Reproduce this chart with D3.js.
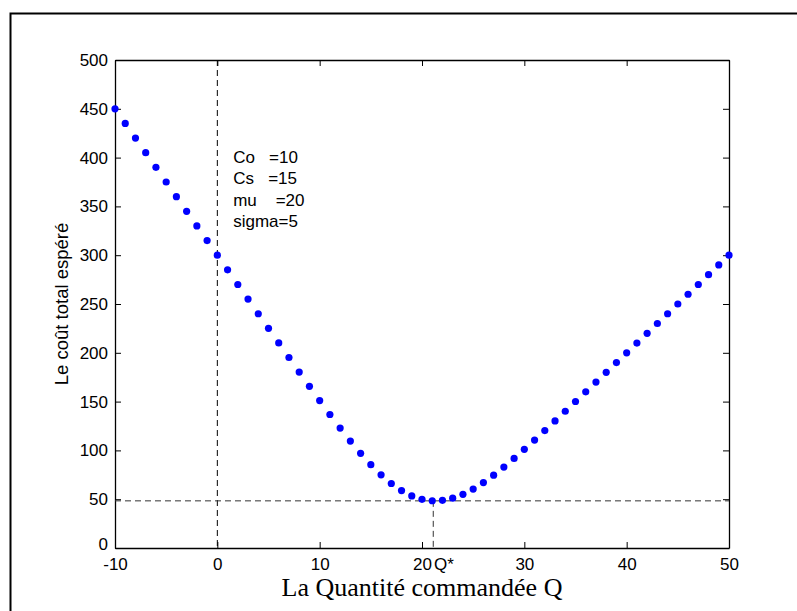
<!DOCTYPE html>
<html lang="fr">
<head>
    <meta charset="UTF-8">
    <script src="https://cdnjs.cloudflare.com/ajax/libs/d3/7.8.5/d3.min.js"></script>
    <title>Le coût total espéré</title>
    <style>
        body {
            margin: 0;
            background: #fff;
        }

        .text-axis {
            font-family: Arial, "Liberation Sans", sans-serif;
            font-size: 17px;
            fill: #000;
        }

        .text-param {
            font-family: Arial, "Liberation Sans", sans-serif;
            font-size: 17px;
            fill: #000;
            white-space: pre;
        }

        .label-x {
            font-family: "Times New Roman", "Liberation Serif", serif;
            font-size: 26px;
            fill: #000;
        }

        .label-y {
            font-family: Arial, "Liberation Sans", sans-serif;
            font-size: 18.5px;
            fill: #000;
        }
    </style>
</head>
<body>
    <script>
        // Quantité commandée Q
        const quantities = [
            -10, -9, -8, -7, -6, -5, -4, -3, -2, -1,
            0, 1, 2, 3, 4, 5, 6, 7, 8, 9,
            10, 11, 12, 13, 14, 15, 16, 17, 18, 19,
            20, 21, 22, 23, 24, 25, 26, 27, 28, 29,
            30, 31, 32, 33, 34, 35, 36, 37, 38, 39,
            40, 41, 42, 43, 44, 45, 46, 47, 48, 49, 50
        ];

        // coût total espéré pour chaque Q
        const costs = [
            450, 435, 420, 405, 390, 375, 360, 345, 330, 315,
            300, 285, 270, 255, 240, 225.1, 210.1, 195.2, 180.3, 165.6,
            151.1, 136.8, 122.9, 109.6, 97.0, 85.4, 75.0, 66.1, 58.8, 53.4,
            49.9, 48.4, 48.8, 51.1, 55.0, 60.4, 67.0, 74.6, 82.9, 91.8,
            101.1, 110.6, 120.3, 130.2, 140.1, 150.1, 160, 170, 180, 190,
            200, 210, 220, 230, 240, 250, 260, 270, 280, 290, 300
        ];

        const xTicks = [-10, 0, 10, 20, 30, 40, 50];
        const yTicks = [0, 50, 100, 150, 200, 250, 300, 350, 400, 450, 500];

        const qStar = 21.1;
        const costMin = 48.3;

        const params = ['Co   =10', 'Cs   =15', 'mu    =20', 'sigma=5'];

        const xLabel = 'La Quantité commandée Q';
        const yLabel = 'Le coût total espéré';
        const qStarLabel = 'Q*';

        const width = 797;
        const height = 611;
        const marginLeft = 115;
        const marginRight = 68;
        const marginTop = 60;
        const marginBottom = 63;
        const tickSize = 6;
        const dotRadius = 3.6;
        const dotColor = '#0000ff';
        const dashColor = '#333';

        const svg = d3.select('body')
            .append('svg')
            .attr('width', width)
            .attr('height', height);

        // cadre de la figure (haut et gauche)
        svg.append('path')
            .attr('d', 'M10.5,' + height + 'V13.5H' + width)
            .attr('fill', 'none')
            .attr('stroke', '#000')
            .attr('stroke-width', 2);

        const x = d3.scaleLinear()
            .domain([-10, 50])
            .range([marginLeft, width - marginRight]);

        const y = d3.scaleLinear()
            .domain([0, 500])
            .range([height - marginBottom, marginTop]);

        // libellés avec un tiret simple, comme dans MATLAB
        const plainFormat = function(d) { return String(d) };

        // axes (ticks vers l'intérieur, sur les 4 côtés)
        const xAxis = d3.axisBottom(x).tickValues(xTicks).tickFormat(plainFormat)
            .tickSizeInner(-tickSize).tickSizeOuter(0).tickPadding(10);
        const yAxis = d3.axisLeft(y).tickValues(yTicks).tickFormat(plainFormat)
            .tickSizeInner(-tickSize).tickSizeOuter(0).tickPadding(7);
        const xAxisTop = d3.axisTop(x).tickValues(xTicks).tickSizeInner(-tickSize).tickSizeOuter(0).tickFormat('');
        const yAxisRight = d3.axisRight(y).tickValues(yTicks).tickSizeInner(-tickSize).tickSizeOuter(0).tickFormat('');

        svg.append('g')
            .attr('class', 'axis axis--x')
            .attr('transform', 'translate(0,' + y(0) + ')')
            .call(xAxis);

        svg.append('g')
            .attr('class', 'axis axis--y')
            .attr('transform', 'translate(' + x(-10) + ',0)')
            .call(yAxis);

        svg.append('g')
            .attr('class', 'axis')
            .attr('transform', 'translate(0,' + y(500) + ')')
            .call(xAxisTop);

        svg.append('g')
            .attr('class', 'axis')
            .attr('transform', 'translate(' + x(50) + ',0)')
            .call(yAxisRight);

        svg.selectAll('.axis text')
            .attr('class', 'text-axis');

        svg.selectAll('.axis').attr('font-size', null).attr('font-family', null);
        svg.selectAll('.axis--x text').attr('dy', '0.71em');
        // le "0" de l'axe Y touche le "-10" de l'axe X : on le remonte un peu
        svg.selectAll('.axis--y text').filter(function(d) { return d === 0 }).attr('dy', '0.1em');
        svg.selectAll('.axis .domain').attr('stroke', '#000').attr('stroke-width', 1.3);
        svg.selectAll('.axis .tick line').attr('stroke', '#000');

        // lignes pointillées
        const dashes = svg.append('g')
            .attr('fill', 'none')
            .attr('stroke-width', 1)
            .attr('stroke-dasharray', '6,4');

        dashes.append('line')
            .attr('stroke', '#000')
            .attr('x1', x(0)).attr('x2', x(0))
            .attr('y1', y(500)).attr('y2', y(0));

        dashes.append('line')
            .attr('stroke', dashColor)
            .attr('x1', x(-10)).attr('x2', x(50))
            .attr('y1', y(costMin)).attr('y2', y(costMin));

        dashes.append('line')
            .attr('stroke', dashColor)
            .attr('x1', x(qStar)).attr('x2', x(qStar))
            .attr('y1', y(costMin)).attr('y2', y(0));

        // points de la courbe
        svg.append('g')
            .selectAll('circle')
            .data(quantities)
            .enter()
            .append('circle')
            .attr('cx', function(d) { return x(d) })
            .attr('cy', function(d, i) { return y(costs[i]) })
            .attr('r', dotRadius)
            .attr('fill', dotColor);

        // paramètres
        svg.append('g')
            .selectAll('text')
            .data(params)
            .enter()
            .append('text')
            .attr('class', 'text-param')
            .attr('x', x(1.55))
            .attr('y', function(d, i) { return y(394.5) + i * 21.5 })
            .text(function(d) { return d });

        // étiquette Q*
        svg.append('text')
            .attr('class', 'text-axis')
            .attr('x', x(20) + 12)
            .attr('y', y(0) + 22)
            .text(qStarLabel);

        // titres des axes
        svg.append('text')
            .attr('class', 'label-x')
            .attr('text-anchor', 'middle')
            .attr('x', (x(-10) + x(50)) / 2)
            .attr('y', 596)
            .text(xLabel);

        svg.append('text')
            .attr('class', 'label-y')
            .attr('text-anchor', 'middle')
            .attr('transform', 'translate(68,' + (y(0) + y(500)) / 2 + ') rotate(-90)')
            .text(yLabel);
    </script>
</body>
</html>
